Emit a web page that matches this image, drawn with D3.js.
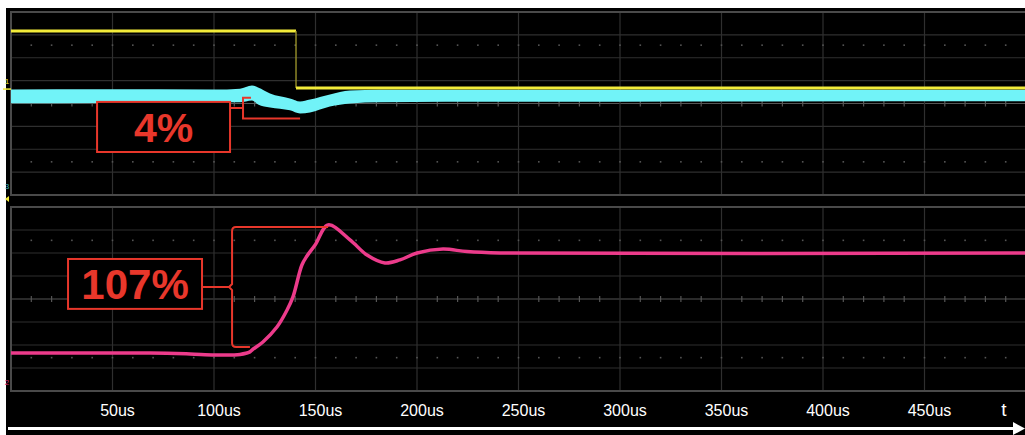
<!DOCTYPE html>
<html>
<head>
<meta charset="utf-8">
<script src="https://cdn.jsdelivr.net/npm/d3@7/dist/d3.min.js"></script>
<style>
  body { margin: 0; background: #fff; }
  svg { display: block; }
</style>
</head>
<body>
<script>
// time axis (us) and labels
var timeTicks = [50, 100, 150, 200, 250, 300, 350, 400, 450];
var tickLabels = ["50us", "100us", "150us", "200us", "250us", "300us", "350us", "400us", "450us"];

// channel 1 (yellow), [time us, divisions]
var yellowTrace = [[0, 3.17], [140.4, 3.17], [140.4, 0.68], [500, 0.68]];

// channel 3 (cyan) noise envelope, [time us, upper div, lower div]
var cyanBand = [
  [0, 0.61, 0.01], [45, 0.62, 0.02], [100, 0.61, 0.05], [112.8, 0.65, 0.05],
  [118.7, 0.79, 0.13], [121.7, 0.70, -0.04], [127.6, 0.44, -0.17], [137.4, 0.22, -0.30],
  [142.4, 0.09, -0.44], [147.3, 0.17, -0.39], [157.1, 0.39, -0.13], [167, 0.57, 0.0],
  [181.8, 0.60, 0.06], [300, 0.60, 0.08], [500, 0.60, 0.10]
];

// channel 2 (pink), [time us, divisions]
var pinkTrace = [
  [0, -2.35], [68.5, -2.35], [88.2, -2.39], [100.5, -2.43], [112.8, -2.41],
  [117.7, -2.30], [118.7, -2.22], [124.1, -1.87], [131, -1.22], [136, -0.48],
  [138.9, 0.09], [143.3, 1.48], [145.8, 1.87], [149.8, 2.35], [156.2, 3.22],
  [167, 2.57], [175.4, 1.91], [184.2, 1.57], [191.6, 1.70], [200, 2.0],
  [212.8, 2.17], [224.6, 2.06], [240.9, 2.0], [500, 2.0]
];

// annotations
var smallNote = { label: "4%", box: [42.4, 107.9, 0.07, -2.12], link: -0.2, bracketX: 114.3, top: 0.25, bottom: -0.66, topEnd: 118.2, bottomEnd: 142.4 };
var bigNote = { label: "107%", box: [28.1, 94.1, 1.74, -0.43], link: 0.52, bracketX: 108.9, top: 3.13, bottom: -2.09, topEnd: 156.2, bottomEnd: 117.7 };

var width = 1025, height = 435;
var svg = d3.select("body").append("svg")
  .attr("width", width)
  .attr("height", height);

svg.append("rect").attr("x", 6).attr("y", 8).attr("width", width - 6).attr("height", height - 8).attr("fill", "#000");

var x = d3.scaleLinear().domain([0, 500]).range([11, 1026]);
var yTop = d3.scaleLinear().domain([-4, 4]).range([195, 12]);
var yBot = d3.scaleLinear().domain([-4, 4]).range([391, 207]);

var red = "#e8372b";

function drawGrid(y) {
  var g = svg.append("g");
  var divs = d3.range(-3, 4);
  g.selectAll("line.h").data(divs).enter().append("line")
    .attr("x1", x(0)).attr("x2", x(500))
    .attr("y1", function (d) { return y(d); }).attr("y2", function (d) { return y(d); })
    .attr("stroke", function (d) { return d == 0 ? "#555" : "#2f2f2f"; })
    .attr("stroke-width", 1.2);
  g.selectAll("line.v").data(timeTicks).enter().append("line")
    .attr("x1", function (d) { return x(d); }).attr("x2", function (d) { return x(d); })
    .attr("y1", y(4)).attr("y2", y(-4))
    .attr("stroke", "#2f2f2f")
    .attr("stroke-width", 1.2);
  var minor = d3.range(10, 500, 10).filter(function (d) { return d % 50 != 0; });
  // centre axis ticks
  g.selectAll("line.t").data(minor).enter().append("line")
    .attr("x1", function (d) { return x(d); }).attr("x2", function (d) { return x(d); })
    .attr("y1", y(0) - 3).attr("y2", y(0) + 3)
    .attr("stroke", "#555").attr("stroke-width", 1.2);
  // dotted rows
  [2.55, -2.55].forEach(function (v) {
    g.selectAll(null).data(minor.concat(timeTicks)).enter().append("rect")
      .attr("x", function (d) { return x(d) - 0.8; })
      .attr("y", y(v) - 0.8)
      .attr("width", 1.6).attr("height", 1.6)
      .attr("fill", "#555");
  });
  g.append("rect")
    .attr("x", x(0)).attr("y", y(4))
    .attr("width", x(500) - x(0)).attr("height", y(-4) - y(4))
    .attr("fill", "none").attr("stroke", "#4a4a4a").attr("stroke-width", 2);
}

drawGrid(yTop);
drawGrid(yBot);

// cyan band
svg.append("path")
  .datum(cyanBand)
  .attr("fill", "#71f3f8")
  .attr("d", d3.area()
    .x(function (d) { return x(d[0]); })
    .y0(function (d) { return yTop(d[2]); })
    .y1(function (d) { return yTop(d[1]); })
    .curve(d3.curveMonotoneX));

// yellow trace (drawn over cyan)
for (var i = 1; i < yellowTrace.length; i++) {
  var a = yellowTrace[i - 1], b = yellowTrace[i];
  var flat = a[1] == b[1];
  svg.append("line")
    .attr("x1", x(a[0])).attr("x2", x(b[0]))
    .attr("y1", yTop(a[1])).attr("y2", yTop(b[1]))
    .attr("stroke", flat ? "#f3ec3a" : "#a39c2c")
    .attr("stroke-width", flat ? 3 : 1.3);
}

// pink trace
svg.append("path")
  .datum(pinkTrace)
  .attr("fill", "none")
  .attr("stroke", "#ec3b8b")
  .attr("stroke-width", 3.5)
  .attr("d", d3.line()
    .x(function (d) { return x(d[0]); })
    .y(function (d) { return yBot(d[1]); })
    .curve(d3.curveCatmullRom));

function drawBox(n, y, size) {
  svg.append("rect")
    .attr("x", x(n.box[0])).attr("y", y(n.box[2]))
    .attr("width", x(n.box[1]) - x(n.box[0])).attr("height", y(n.box[3]) - y(n.box[2]))
    .attr("fill", "#000").attr("stroke", red).attr("stroke-width", 2);
  svg.append("text")
    .attr("x", (x(n.box[0]) + x(n.box[1])) / 2)
    .attr("y", (y(n.box[2]) + y(n.box[3])) / 2)
    .attr("dy", "0.36em")
    .attr("text-anchor", "middle")
    .attr("font-family", "Liberation Sans, Arial, sans-serif")
    .attr("font-weight", "bold")
    .attr("font-size", size)
    .attr("fill", red)
    .text(n.label);
}

// annotation: 4% (square bracket)
drawBox(smallNote, yTop, 41);
svg.append("path")
  .attr("d", "M" + x(smallNote.box[1]) + "," + yTop(smallNote.link) + "H" + x(smallNote.bracketX) +
    "M" + x(smallNote.topEnd) + "," + yTop(smallNote.top) + "H" + x(smallNote.bracketX) +
    "V" + yTop(smallNote.bottom) + "H" + x(smallNote.bottomEnd))
  .attr("fill", "none").attr("stroke", red).attr("stroke-width", 2);

// annotation: 107% (curly brace)
drawBox(bigNote, yBot, 42);
var bx = x(bigNote.bracketX), mid = yBot(bigNote.link);
svg.append("path")
  .attr("d", "M" + x(bigNote.box[1]) + "," + mid + "H" + (bx - 3) +
    "M" + x(bigNote.topEnd) + "," + yBot(bigNote.top) + "H" + (bx + 4) +
    "Q" + bx + "," + yBot(bigNote.top) + " " + bx + "," + (yBot(bigNote.top) + 4) +
    "V" + (mid - 3) + "L" + (bx - 3) + "," + mid + "L" + bx + "," + (mid + 3) +
    "V" + (yBot(bigNote.bottom) - 4) +
    "Q" + bx + "," + yBot(bigNote.bottom) + " " + (bx + 4) + "," + yBot(bigNote.bottom) +
    "H" + x(bigNote.bottomEnd))
  .attr("fill", "none").attr("stroke", red).attr("stroke-width", 2);

// channel markers
var markers = [["1", yTop(0.85), "#f3ec3a"], ["3", yTop(-3.75), "#39b7c4"], ["2", yBot(-3.75), "#d8307f"]];
svg.selectAll("text.m").data(markers).enter().append("text")
  .attr("x", 7).attr("y", function (d) { return d[1]; })
  .attr("text-anchor", "middle")
  .attr("font-family", "Liberation Sans, Arial, sans-serif")
  .attr("font-size", 8)
  .attr("fill", function (d) { return d[2]; })
  .text(function (d) { return d[0]; });
svg.append("line").attr("x1", 3).attr("x2", 11).attr("y1", yTop(0.63)).attr("y2", yTop(0.63))
  .attr("stroke", "#f3ec3a").attr("stroke-width", 1.5);
svg.append("path").attr("d", "M5," + 199 + "l4,-3v6z").attr("fill", "#f3ec3a");

// time labels
svg.selectAll("text.tl").data(timeTicks).enter().append("text")
  .attr("x", function (d) { return x(d) + 5; })
  .attr("y", 416)
  .attr("text-anchor", "middle")
  .attr("font-family", "Liberation Sans, Arial, sans-serif")
  .attr("font-size", 16)
  .attr("fill", "#fff")
  .text(function (d, i) { return tickLabels[i]; });
svg.append("text")
  .attr("x", 1004).attr("y", 416)
  .attr("text-anchor", "middle")
  .attr("font-family", "Liberation Sans, Arial, sans-serif")
  .attr("font-size", 19)
  .attr("fill", "#fff")
  .text("t");

// time arrow
svg.append("line").attr("x1", 8).attr("x2", 1016).attr("y1", 428.5).attr("y2", 428.5)
  .attr("stroke", "#fff").attr("stroke-width", 3);
svg.append("path").attr("d", "M1025,428.5L1013,422V435Z").attr("fill", "#fff");
</script>
</body>
</html>
